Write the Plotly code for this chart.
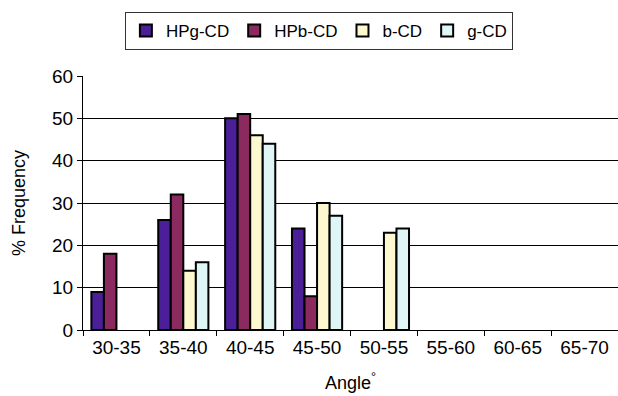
import plotly.graph_objects as go

# Angle bins and frequency (%) for each cyclodextrin
angles = ["30-35", "35-40", "40-45", "45-50", "50-55", "55-60", "60-65", "65-70"]
hpg_cd = [9, 26, 50, 24, 0, 0, 0, 0]
hpb_cd = [18, 32, 51, 8, 0, 0, 0, 0]
b_cd = [0, 14, 46, 30, 23, 0, 0, 0]
g_cd = [0, 16, 44, 27, 24, 0, 0, 0]

series = [
    ("HPg-CD", hpg_cd, "#4a1f97"),
    ("HPb-CD", hpb_cd, "#8a2a5e"),
    ("b-CD", b_cd, "#fdf8cf"),
    ("g-CD", g_cd, "#e0f6f6"),
]

fig = go.Figure()
for name, vals, color in series:
    # empty bins are left blank so no outline sits on the baseline
    shown = [v if v > 0 else None for v in vals]
    fig.add_trace(go.Bar(
        x=angles, y=shown, name=name,
        marker=dict(color=color, line=dict(color="black", width=2)),
    ))

font_family = "Liberation Sans, Arial, sans-serif"
fs = 19

fig.update_layout(
    width=618, height=396,
    margin=dict(l=83, r=0, t=76, b=66),
    paper_bgcolor="white", plot_bgcolor="white",
    barmode="group", bargap=0.25, bargroupgap=0,
    font=dict(family=font_family, size=fs, color="black"),
    showlegend=True,
    legend=dict(
        orientation="h",
        xref="container", yref="container",
        x=0.516, xanchor="center",
        y=0.97, yanchor="top",
        bordercolor="#333333", borderwidth=1,
        font=dict(size=17),
        itemwidth=30,
        tracegroupgap=0,
    ),
    xaxis=dict(
        showline=True, linecolor="black", linewidth=1,
        ticks="outside", tickson="boundaries", ticklen=5, tickcolor="black",
        showgrid=False,
        tickfont=dict(size=fs),
        title=dict(text="Angle<sup>°</sup>", font=dict(size=18), standoff=19),
        automargin=False,
    ),
    yaxis=dict(
        range=[0, 60], dtick=10,
        showline=True, linecolor="black", linewidth=1,
        ticks="outside", ticklen=5, tickcolor="black",
        showgrid=True, gridcolor="black", gridwidth=1,
        tickfont=dict(size=fs),
        title=dict(text="% Frequency", font=dict(size=18), standoff=21),
        zeroline=False,
        automargin=False,
    ),
)

fig.write_html("out.html")
